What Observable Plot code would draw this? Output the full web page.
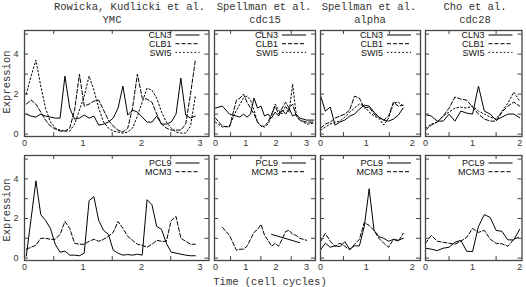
<!DOCTYPE html>
<html><head><meta charset="utf-8">
<script src="https://cdn.jsdelivr.net/npm/d3@7"></script>
<script src="https://cdn.jsdelivr.net/npm/@observablehq/plot@0.6"></script>
<style>
body{margin:0;background:#fff}
#c{position:relative;width:526px;height:287px;overflow:hidden;background:#fff}
.t{position:absolute;font-family:"Liberation Mono",monospace;font-size:10.5px;color:#333;white-space:pre;transform:translate(-50%,-50%);line-height:1}
.p{position:absolute}
</style></head><body><div id="c"></div>
<script>
// ---- data ----
const ymcTime = [0.03,0.113,0.195,0.278,0.36,0.443,0.526,0.608,0.691,0.773,0.856,0.939,1.021,1.104,1.186,1.269,1.352,1.434,1.517,1.599,1.682,1.765,1.847,1.93,2.012,2.095,2.178,2.26,2.343,2.425,2.508,2.591,2.673,2.756,2.838,2.921];
const ymcCLN3 = [1.0,0.9,0.85,1.0,0.9,0.85,0.8,0.8,2.9,1.3,0.75,0.8,0.95,0.8,0.9,0.45,0.5,0.6,0.8,1.3,2.4,0.95,1.2,1.1,0.85,0.6,0.6,0.9,0.5,0.5,0.6,1.0,2.8,0.95,0.8,0.9];
const ymcCLB1 = [1.5,1.7,1.5,1.1,0.7,0.4,0.25,0.15,0.15,0.3,1.2,3.0,1.4,1.5,1.65,1.7,1.2,0.7,0.4,0.2,0.1,0.3,1.3,3.0,1.8,1.75,1.6,1.0,0.5,0.3,0.2,0.2,0.2,0.5,2.0,3.7];
const ymcSWI5 = [2.0,2.9,3.7,2.4,1.3,0.6,0.3,0.2,0.15,0.15,0.5,1.2,1.9,2.9,2.2,1.3,0.6,0.3,0.15,0.1,0.05,0.1,0.3,0.9,1.6,2.3,2.2,1.8,1.1,0.6,0.3,0.1,0.05,0.05,0.4,1.9];
const ymcPCL9 = [0.1,2.0,3.9,2.2,1.9,1.5,0.7,0.3,0.35,0.15,0.15,0.12,0.25,2.9,3.1,1.9,1.4,1.2,0.4,0.25,0.15,0.18,0.15,0.2,0.15,2.95,2.7,1.6,1.45,0.75,0.3,0.25,0.2,0.15,0.12,0.12];
const ymcMCM3 = [0.45,0.55,0.65,1.0,1.0,0.95,0.95,1.2,1.85,1.5,0.75,0.7,0.7,0.85,0.95,0.85,0.95,1.1,1.3,1.85,1.5,1.1,0.9,0.7,0.65,0.55,0.7,0.9,0.85,0.85,1.9,2.1,1.0,0.85,0.7,0.7];

const cdc15Time = [0,0.231,0.463,0.694,0.81,0.926,1.042,1.157,1.273,1.389,1.505,1.62,1.736,1.852,1.968,2.083,2.199,2.315,2.431,2.546,2.662,2.778,3.009,3.241];
const cdc15CLN3 = [1.3,1.4,1.0,0.9,0.85,1.0,0.85,1.0,1.8,1.3,1.4,0.9,1.0,0.8,1.1,0.9,1.2,1.0,1.3,0.9,1.0,0.8,0.7,0.7];
const cdc15CLB1 = [0.8,0.4,0.35,1.7,1.8,2.0,1.6,1.3,1.0,0.6,0.4,0.4,0.6,1.0,1.4,1.0,1.3,1.6,1.3,1.5,0.9,0.7,0.6,0.6];
const cdc15SWI5 = [0.6,0.35,0.4,1.2,1.5,1.8,1.9,1.7,1.2,0.6,0.4,0.35,0.5,0.9,1.5,1.2,1.0,1.4,1.1,2.5,1.0,0.7,0.5,0.55];
const cdc15PCL9 = [null,null,null,null,null,null,null,null,null,null,null,null,null,1.2,null,null,null,null,null,null,null,0.78,null,null];
const cdc15MCM3 = [null,1.55,1.15,0.4,0.45,0.45,0.6,0.95,1.3,1.45,1.7,1.15,0.9,0.6,0.75,0.6,0.95,1.35,1.4,1.2,1.15,1.0,0.9,null];

const alphaTime = [0,0.106,0.212,0.318,0.424,0.53,0.636,0.742,0.848,0.955,1.061,1.167,1.273,1.379,1.485,1.591,1.697,1.803];
const alphaCLN3 = [1.93,1.15,1.35,0.45,0.6,0.7,0.9,1.0,1.25,1.45,1.4,1.1,0.85,0.7,0.65,0.75,0.95,1.3];
const alphaCLB1 = [0.3,0.5,0.6,0.8,0.9,1.0,1.2,1.9,1.8,1.3,1.35,1.0,0.85,0.7,0.9,1.6,1.4,1.45];
const alphaSWI5 = [0.2,0.35,0.5,0.6,0.65,0.85,1.1,1.3,1.5,1.4,1.1,0.9,0.8,0.45,0.8,1.55,1.6,1.4];
const alphaPCL9 = [0.42,0.75,0.55,0.62,0.58,0.83,0.45,0.62,0.62,1.6,3.5,1.4,1.08,1.0,0.85,0.95,0.9,1.0];
const alphaMCM3 = [0.83,1.25,0.85,0.6,0.75,0.6,0.42,0.7,0.95,1.8,1.65,1.4,1.0,0.75,0.55,0.95,0.85,1.25];

const cdc28Time = [0,0.125,0.25,0.375,0.5,0.625,0.75,0.875,1.0,1.125,1.25,1.375,1.5,1.625,1.75,1.875,2.0];
const cdc28CLN3 = [0.98,0.9,0.65,0.65,1.0,0.65,1.15,1.05,1.0,2.4,1.15,1.0,0.7,0.85,1.0,1.0,0.82];
const cdc28CLB1 = [0.2,0.45,0.6,0.9,1.3,1.85,1.75,1.7,1.35,1.0,0.75,0.65,0.65,1.1,1.4,1.6,1.4];
const cdc28SWI5 = [0.3,0.5,0.6,0.9,1.1,1.3,1.35,1.3,1.4,1.15,1.0,0.85,0.75,1.15,1.55,2.1,1.65];
const cdc28PCL9 = [0.5,0.45,0.38,0.5,0.55,0.8,0.9,0.35,0.33,1.6,2.2,2.05,1.4,1.35,0.92,0.92,1.45];
const cdc28MCM3 = [0.75,1.15,0.85,0.8,0.75,0.7,0.85,1.05,1.5,1.3,1.4,0.95,0.75,0.72,0.6,0.95,1.08];

const yTicks = [0,1,2,3,4,5];
const yLabels = [0,2,4];
const colTitles = ["Rowicka, Kudlicki et al.","Spellman et al.","Spellman et al.","Cho et al."];
const colSubtitles = ["YMC","cdc15","alpha","cdc28"];

// ---- layout ----
const cols = [
  {x0:23.5, x1:208, domain:[0,3.154], ticks:[0.5,1.5,2.5], labels:[0,1,2,3], time:ymcTime,
   top:[["CLN3",ymcCLN3],["CLB1",ymcCLB1],["SWI5",ymcSWI5]], bottom:[["PCL9",ymcPCL9],["MCM3",ymcMCM3]]},
  {x0:214, x1:315, domain:[-0.03,3.3], ticks:[0.5,1.5,2.5], labels:[0,1,2,3], time:cdc15Time,
   top:[["CLN3",cdc15CLN3],["CLB1",cdc15CLB1],["SWI5",cdc15SWI5]], bottom:[["PCL9",cdc15PCL9],["MCM3",cdc15MCM3]]},
  {x0:320, x1:420, domain:[0,2.18], ticks:[0.5,1.5], labels:[0,1,2], time:alphaTime,
   top:[["CLN3",alphaCLN3],["CLB1",alphaCLB1],["SWI5",alphaSWI5]], bottom:[["PCL9",alphaPCL9],["MCM3",alphaMCM3]]},
  {x0:425, x1:521.5, domain:[0,2.05], ticks:[0.5,1.5], labels:[0,1,2], time:cdc28Time,
   top:[["CLN3",cdc28CLN3],["CLB1",cdc28CLB1],["SWI5",cdc28SWI5]], bottom:[["PCL9",cdc28PCL9],["MCM3",cdc28MCM3]]}
];
const rows = [{y0:29.5, y1:135.5, key:"top", leg0:5}, {y0:155, y1:260, key:"bottom", leg0:8}];
const dashes = {CLN3:null, PCL9:null, CLB1:"4,2", MCM3:"4,2", SWI5:"1.6,2.2"};

const c = document.getElementById("c");
const sansFont = "'Liberation Sans', Arial, sans-serif";

cols.forEach((col, ci) => {
  rows.forEach((row, ri) => {
    const fw = col.x1 - col.x0, fh = row.y1 - row.y0;
    const series = col[row.key];
    const marks = [];
    series.forEach(([name, vals]) => {
      let pts = vals.map((v, i) => ({t: col.time[i], v}));
      if (vals.filter(v => v != null).length < vals.length / 2) pts = pts.filter(d => d.v != null);
      marks.push(Plot.line(pts, {x: "t", y: "v", stroke: "#000", strokeWidth: 1, strokeDasharray: dashes[name]}));
    });
    marks.push(Plot.ruleX(col.ticks, {stroke: "#444", strokeWidth: 1, insetTop: fh - 4}));
    marks.push(Plot.ruleX(col.ticks, {stroke: "#444", strokeWidth: 1, insetBottom: fh - 4}));
    marks.push(Plot.ruleY(yTicks, {stroke: "#444", strokeWidth: 1, insetRight: fw - 4}));
    marks.push(Plot.ruleY(yTicks, {stroke: "#444", strokeWidth: 1, insetLeft: fw - 4}));
    marks.push(Plot.frame({stroke: "#444", strokeWidth: 1.3}));
    marks.push(Plot.axisX({ticks: col.labels, tickSize: 0, tickPadding: 3, fontSize: 9, fontFamily: sansFont, color: "#333", label: null, tickFormat: d => String(d)}));
    if (ci === 0) marks.push(Plot.axisY({ticks: yLabels, tickSize: 0, tickPadding: 6, fontSize: 9, fontFamily: sansFont, color: "#333", label: null, tickFormat: d => String(d)}));
    // legend
    marks.push(() => {
      const g = d3.create("svg:g");
      series.forEach(([name], k) => {
        const y = row.leg0 + k * 8.7;
        g.append("text").attr("x", fw - 37).attr("y", y).attr("text-anchor", "end").attr("dy", "0.35em")
          .attr("font-family", sansFont).attr("font-size", 9).attr("fill", "#111").text(name);
        g.append("line").attr("x1", fw - 33).attr("x2", fw - 9).attr("y1", y).attr("y2", y)
          .attr("stroke", "#000").attr("stroke-width", 1).attr("stroke-dasharray", dashes[name]);
      });
      return g.node();
    });
    const plot = Plot.plot({
      width: fw, height: fh, marginTop: 0, marginBottom: 0, marginLeft: 0, marginRight: 0,
      x: {domain: col.domain},
      y: {domain: [-0.12, 5.18], ...(ci === 0 ? {} : {axis: null})},
      style: {overflow: "visible", background: "transparent"},
      marks
    });
    const wrap = document.createElement("div");
    wrap.className = "p";
    wrap.style.left = col.x0 + "px";
    wrap.style.top = row.y0 + "px";
    wrap.appendChild(plot);
    c.appendChild(wrap);
  });
});

function addText(txt, x, y, extra) {
  const d = document.createElement("div");
  d.className = "t";
  d.textContent = txt;
  d.style.left = x + "px";
  d.style.top = y + "px";
  if (extra) Object.assign(d.style, extra);
  c.appendChild(d);
}
const titleX = [129.5, 264, 369, 475];
const subX = [112, 265, 370, 475];
colTitles.forEach((t, i) => addText(t, titleX[i], 6.5));
colSubtitles.forEach((t, i) => addText(t, subX[i], 20));
addText("Expression", 7, 82, {transform: "translate(-50%,-50%) rotate(-90deg)"});
addText("Expression", 7, 210, {transform: "translate(-50%,-50%) rotate(-90deg)"});
addText("Time (cell cycles)", 270, 282);
</script></body></html>
